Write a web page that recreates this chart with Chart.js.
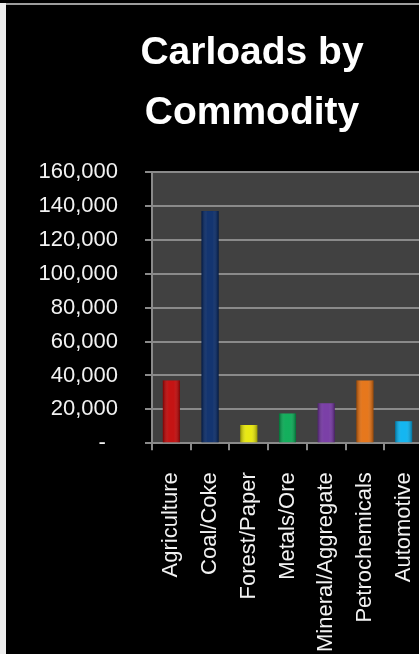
<!DOCTYPE html>
<html>
<head>
<meta charset="utf-8">
<script src="https://cdn.jsdelivr.net/npm/chart.js@4.4.1/dist/chart.umd.min.js"></script>
<style>
  html, body { margin: 0; padding: 0; background: #000; overflow: hidden; width: 419px; height: 654px; }
  #wrap { position: absolute; left: 0; top: 0; width: 466px; height: 674px; }
  #edgeTop { position: absolute; left: 0; top: 3px; width: 419px; height: 2px; background: #9c9c9c; }
  #edgeLeft { position: absolute; left: 0; top: 3px; width: 6px; height: 651px; background: #ededed; }
</style>
</head>
<body>
<div id="wrap"><canvas id="carloads"></canvas></div>
<div id="edgeTop"></div>
<div id="edgeLeft"></div>
<script>
var commodities = ["Agriculture", "Coal/Coke", "Forest/Paper", "Metals/Ore", "Mineral/Aggregate", "Petrochemicals", "Automotive"];
var carloads = [37000, 137000, 10700, 17600, 23600, 37000, 13000];
var barColors = ["#C00000", "#002464", "#E6E600", "#00A84F", "#7030A0", "#E46C0A", "#00B0F0"];
var titleLines = ["Carloads by", "Commodity"];

var gridGray = "#8a8a8a";
var labelFont = "'Liberation Sans', Arial, sans-serif";

// dark grey plot area like the slide
var plotBackground = {
  id: "plotBackground",
  beforeDraw: function (chart) {
    var a = chart.chartArea;
    var c = chart.ctx;
    c.save();
    c.fillStyle = "#414141";
    c.fillRect(a.left, a.top, a.right - a.left, a.bottom - a.top);
    c.restore();
  }
};

// little bit of shading on each bar so they look rounded
var barShade = {
  id: "barShade",
  afterDatasetsDraw: function (chart) {
    var c = chart.ctx;
    chart.getDatasetMeta(0).data.forEach(function (bar) {
      var half = bar.width / 2;
      var g = c.createLinearGradient(bar.x - half, 0, bar.x + half, 0);
      g.addColorStop(0, "rgba(0,0,0,0.35)");
      g.addColorStop(0.35, "rgba(255,255,255,0.08)");
      g.addColorStop(0.65, "rgba(255,255,255,0.08)");
      g.addColorStop(1, "rgba(0,0,0,0.35)");
      c.save();
      c.fillStyle = g;
      c.fillRect(bar.x - half, bar.y, bar.width, bar.base - bar.y);
      c.restore();
    });
  }
};

var ctx = document.getElementById("carloads").getContext("2d");

var myChart = new Chart(ctx, {
  type: "bar",
  data: {
    labels: commodities,
    datasets: [
      {
        label: "Carloads",
        data: carloads,
        backgroundColor: barColors,
        borderWidth: 0,
        barPercentage: 0.44,
        categoryPercentage: 1.0,
      },
    ],
  },
  options: {
    responsive: true,
    maintainAspectRatio: false,
    animation: false,
    layout: {
      padding: { left: 38, right: 0, top: 0, bottom: 0 },
    },
    plugins: {
      legend: { display: false },
      tooltip: { enabled: false },
      title: {
        display: true,
        text: titleLines,
        color: "#ffffff",
        font: { family: "'Liberation Sans', Arial, sans-serif", size: 39, weight: "bold", lineHeight: 1.54 },
        padding: { top: 23, bottom: 29 },
      },
    },
    scales: {
      x: {
        offset: true,
        grid: {
          display: true,
          drawOnChartArea: false,
          offset: true,
          color: gridGray,
          lineWidth: 2,
          tickLength: 7,
        },
        border: { color: gridGray, width: 2 },
        ticks: {
          autoSkip: false,
          minRotation: 90,
          maxRotation: 90,
          padding: 22,
          color: "#f2f2f2",
          font: { family: labelFont, size: 22 },
        },
      },
      y: {
        min: 0,
        max: 160000,
        grid: {
          color: gridGray,
          lineWidth: 2,
          tickLength: 7,
        },
        border: { color: gridGray, width: 2 },
        ticks: {
          stepSize: 20000,
          autoSkip: false,
          padding: 27,
          color: "#f2f2f2",
          font: { family: labelFont, size: 22 },
          callback: function (value) {
            if (value === 0) return "-  ";
            return value.toLocaleString("en-US");
          },
        },
        // chart.js caps side boxes at a quarter of the width, labels need more
        afterFit: function (scale) {
          scale.width = 114;
        },
      },
      // empty spacer on the right, the slide was cut off there
      spacer: {
        position: "right",
        display: true,
        grid: { display: false },
        border: { display: false },
        ticks: { display: false },
        afterFit: function (scale) {
          scale.width = 43;
        },
      },
    },
  },
  plugins: [plotBackground, barShade],
});
</script>
</body>
</html>
